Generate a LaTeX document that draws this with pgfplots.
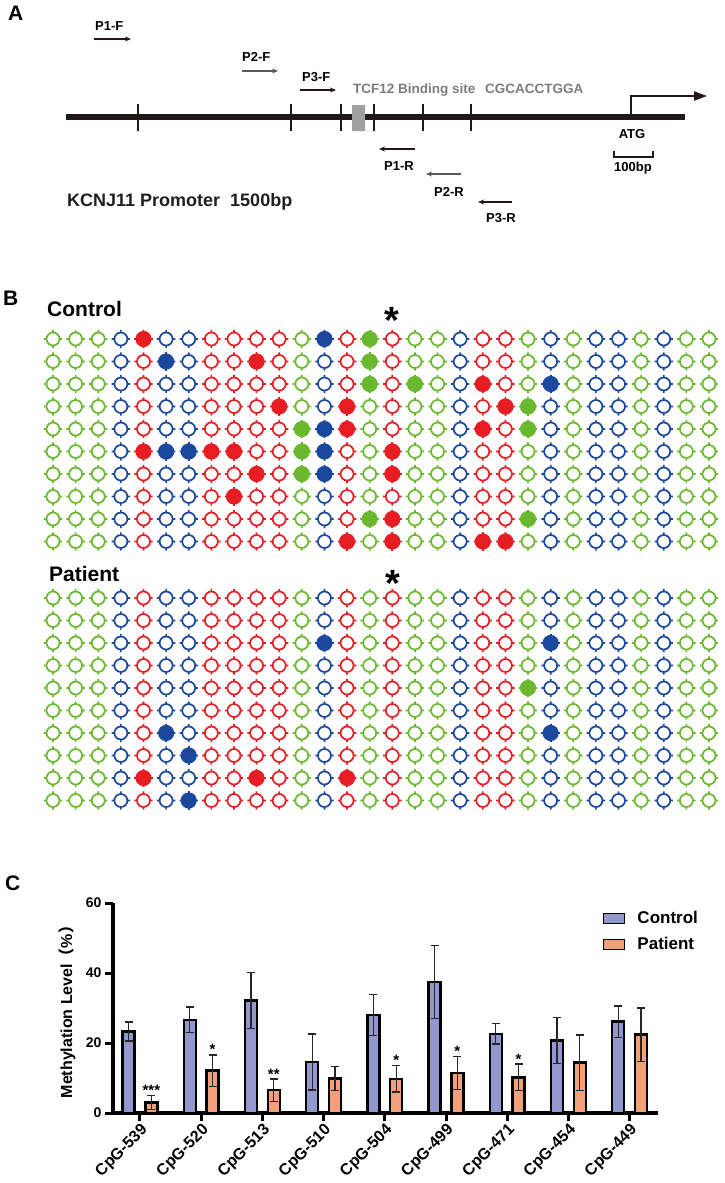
\documentclass[border=0pt]{standalone}
\usepackage{pgfplots}
\pgfplotsset{compat=1.18}
\usepackage{pgfplotstable}
\usepackage{fontspec}
\setmainfont{Liberation Sans}
\newfontfamily\cjk{Noto Sans CJK SC}
\usetikzlibrary{arrows.meta}
\newcommand{\fsz}[1]{\fontsize{#1}{#1}\selectfont}

\definecolor{cg}{RGB}{106,184,46}
\definecolor{cr}{RGB}{230,30,36}
\definecolor{cb}{RGB}{26,72,156}
\definecolor{barC}{RGB}{146,152,206}
\definecolor{barP}{RGB}{242,160,122}
\definecolor{lineblk}{RGB}{32,24,24}
\definecolor{boxgray}{RGB}{160,160,160}
\definecolor{txtgray}{RGB}{125,125,125}

\pgfdeclareplotmark{ring}{%
  \pgfpathcircle{\pgfpointorigin}{6.5pt}%
  \pgfpathmoveto{\pgfqpoint{0pt}{6pt}}\pgfpathlineto{\pgfqpoint{0pt}{9.2pt}}%
  \pgfpathmoveto{\pgfqpoint{0pt}{-6pt}}\pgfpathlineto{\pgfqpoint{0pt}{-9.2pt}}%
  \pgfpathmoveto{\pgfqpoint{6pt}{0pt}}\pgfpathlineto{\pgfqpoint{9.2pt}{0pt}}%
  \pgfpathmoveto{\pgfqpoint{-6pt}{0pt}}\pgfpathlineto{\pgfqpoint{-9.2pt}{0pt}}%
  \pgfusepathqstroke}
\pgfdeclareplotmark{dot}{%
  \pgfpathcircle{\pgfpointorigin}{8.1pt}\pgfusepathqfill
  \pgfpathmoveto{\pgfqpoint{0pt}{6pt}}\pgfpathlineto{\pgfqpoint{0pt}{9.2pt}}%
  \pgfpathmoveto{\pgfqpoint{0pt}{-6pt}}\pgfpathlineto{\pgfqpoint{0pt}{-9.2pt}}%
  \pgfpathmoveto{\pgfqpoint{6pt}{0pt}}\pgfpathlineto{\pgfqpoint{9.2pt}{0pt}}%
  \pgfpathmoveto{\pgfqpoint{-6pt}{0pt}}\pgfpathlineto{\pgfqpoint{-9.2pt}{0pt}}%
  \pgfusepathqstroke}

% CpG column colour classes (g = green, r = red, b = blue)
\pgfplotstableread{
col cls
0 g
1 g
2 g
3 b
4 r
5 b
6 b
7 r
8 r
9 r
10 r
11 g
12 b
13 r
14 g
15 r
16 g
17 g
18 b
19 r
20 r
21 g
22 b
23 g
24 b
25 b
26 g
27 b
28 g
29 g
}\colstab

% methylated (filled) sites, Control
\pgfplotstableread{
col row cls
4 1 r
12 1 b
14 1 g
5 2 b
9 2 r
14 2 g
14 3 g
16 3 g
19 3 r
22 3 b
10 4 r
13 4 r
20 4 r
21 4 g
11 5 g
12 5 b
13 5 r
19 5 r
21 5 g
4 6 r
5 6 b
6 6 b
7 6 r
8 6 r
11 6 g
12 6 b
15 6 r
9 7 r
11 7 g
12 7 b
15 7 r
8 8 r
14 9 g
15 9 r
21 9 g
13 10 r
15 10 r
19 10 r
20 10 r
}\ctrlfilled

% methylated (filled) sites, Patient
\pgfplotstableread{
col row cls
12 3 b
22 3 b
21 5 g
5 7 b
22 7 b
6 8 b
4 9 r
9 9 r
13 9 r
6 10 b
}\patfilled

% methylation level (%)
\pgfplotstableread{
cat ctrl cerr pat perr
0 23.3 2.7 3.0 2.0
1 26.6 3.7 12.1 4.5
2 32.2 8.0 6.5 3.2
3 14.6 8.0 9.9 3.5
4 28.0 5.9 9.8 3.8
5 37.5 10.4 11.4 4.7
6 22.6 2.9 10.2 3.8
7 20.7 6.5 14.4 7.9
8 26.1 4.5 22.4 7.6
}\levels

\pgfplotsset{
  ringrows/.style={scatter, only marks, scatter src=explicit symbolic,
    scatter/classes={g={mark=ring,cg}, r={mark=ring,cr}, b={mark=ring,cb}},
    mark options={line width=1.7pt}},
  dotcells/.style={scatter, only marks, scatter src=explicit symbolic,
    scatter/classes={g={mark=dot,cg}, r={mark=dot,cr}, b={mark=dot,cb}},
    mark options={line width=1.7pt}},
}

\begin{document}
\begin{tikzpicture}
% ---------------- background / panel A ----------------
\begin{axis}[name=bg, at={(0pt,0pt)}, anchor=north west,
  width=724pt, height=1183pt, scale only axis, hide axis,
  xmin=0, xmax=724, ymin=0, ymax=1183, y dir=reverse, clip=false]
  \addplot[line width=5.5pt, lineblk] coordinates {(66,117)(685,117)};
  \addplot[line width=2.2pt, lineblk] coordinates {(138,104)(138,131)};
  \addplot[line width=2.2pt, lineblk] coordinates {(291,104)(291,131)};
  \addplot[line width=2.2pt, lineblk] coordinates {(341,104)(341,131)};
  \addplot[line width=2.2pt, lineblk] coordinates {(374,104)(374,131)};
  \addplot[line width=2.2pt, lineblk] coordinates {(423,104)(423,131)};
  \addplot[line width=2.2pt, lineblk] coordinates {(471,104)(471,131)};
  \addplot[fill=boxgray, draw=none] coordinates {(352,105)(365,105)(365,131)(352,131)(352,105)};
  \addplot[line width=2pt, lineblk, -{Triangle[length=13pt,width=9pt]}] coordinates {(631,117)(631,96)(707,96)};
  % primers
  \addplot[line width=1.4pt, lineblk, -{Stealth[length=6pt,width=5pt]}] coordinates {(94,39)(131,39)};
  \addplot[line width=1.4pt, black!65, -{Stealth[length=6pt,width=5pt]}] coordinates {(242,71)(278,71)};
  \addplot[line width=1.4pt, lineblk, -{Stealth[length=6pt,width=5pt]}] coordinates {(300,90)(336,90)};
  \addplot[line width=1.4pt, lineblk, -{Stealth[length=6pt,width=5pt]}] coordinates {(415,149)(379,149)};
  \addplot[line width=1.4pt, black!65, -{Stealth[length=6pt,width=5pt]}] coordinates {(461,174)(426,174)};
  \addplot[line width=1.4pt, lineblk, -{Stealth[length=6pt,width=5pt]}] coordinates {(512,202)(478,202)};
  % scale bar
  \addplot[line width=1.3pt, lineblk] coordinates {(614,151)(614,157)(653,157)(653,151)};

  \node[anchor=base west, inner sep=0pt, font=\fsz{21}\bfseries] at (axis cs:8,20) {A};
  \node[anchor=base west, inner sep=0pt, font=\fsz{13}\bfseries] at (axis cs:95,30) {P1-F};
  \node[anchor=base west, inner sep=0pt, font=\fsz{13}\bfseries] at (axis cs:242,61.7) {P2-F};
  \node[anchor=base west, inner sep=0pt, font=\fsz{13}\bfseries] at (axis cs:302,81.7) {P3-F};
  \node[anchor=base west, inner sep=0pt, font=\fsz{13}\bfseries] at (axis cs:384,170) {P1-R};
  \node[anchor=base west, inner sep=0pt, font=\fsz{13}\bfseries] at (axis cs:434,196) {P2-R};
  \node[anchor=base west, inner sep=0pt, font=\fsz{13}\bfseries] at (axis cs:486,222.7) {P3-R};
  \node[anchor=base west, inner sep=0pt, font=\fsz{13.5}\bfseries, txtgray] at (axis cs:353,93.3) {TCF12 Binding site};
  \node[anchor=base west, inner sep=0pt, font=\fsz{13.5}\bfseries, txtgray] at (axis cs:485,93.3) {CGCACCTGGA};
  \node[anchor=base, inner sep=0pt, font=\fsz{13}\bfseries] at (axis cs:632,138.3) {ATG};
  \node[anchor=base, inner sep=0pt, font=\fsz{13}\bfseries] at (axis cs:633,171.7) {100bp};
  \node[anchor=base west, inner sep=0pt, font=\fsz{18}\bfseries, black!88] at (axis cs:67,206.7) {KCNJ11 Promoter\ \ 1500bp};
  % panel B labels
  \node[anchor=base west, inner sep=0pt, font=\fsz{21}\bfseries] at (axis cs:3,305) {B};
  \node[anchor=base west, inner sep=0pt, font=\fsz{21}\bfseries] at (axis cs:47,316) {Control};
  \node[anchor=base west, inner sep=0pt, font=\fsz{21}\bfseries] at (axis cs:49,581.7) {Patient};
  \node[anchor=north, inner sep=0pt, font=\fsz{38}\bfseries] at (axis cs:392,307) {*};
  \node[anchor=north, inner sep=0pt, font=\fsz{38}\bfseries] at (axis cs:393,570) {*};
  % panel C label
  \node[anchor=base west, inner sep=0pt, font=\fsz{21}\bfseries] at (axis cs:5,890) {C};
\end{axis}

% ---------------- panel B: Control ----------------
\begin{axis}[at={(41.7pt,-327.75pt)}, anchor=north west,
  width=678.6pt, height=225pt, scale only axis, hide axis,
  xmin=-0.5, xmax=29.5, ymin=0.5, ymax=10.5, y dir=reverse, clip=false]
  \pgfplotsinvokeforeach{1,...,10}{
    \addplot[ringrows] table[x=col, y expr=#1, meta=cls]{\colstab};
  }
  \addplot[dotcells] table[x=col, y=row, meta=cls]{\ctrlfilled};
\end{axis}

% ---------------- panel B: Patient ----------------
\begin{axis}[at={(41.7pt,-586.75pt)}, anchor=north west,
  width=678.6pt, height=225pt, scale only axis, hide axis,
  xmin=-0.5, xmax=29.5, ymin=0.5, ymax=10.5, y dir=reverse, clip=false]
  \pgfplotsinvokeforeach{1,...,10}{
    \addplot[ringrows] table[x=col, y expr=#1, meta=cls]{\colstab};
  }
  \addplot[dotcells] table[x=col, y=row, meta=cls]{\patfilled};
\end{axis}

% ---------------- panel C ----------------
\begin{axis}[at={(113pt,-1113pt)}, anchor=south west,
  width=545pt, height=210pt, scale only axis,
  xmin=-0.441, xmax=8.464, ymin=0, ymax=60,
  axis x line=bottom, axis y line=left,
  axis line style={line width=3.5pt, -},
  ytick={0,20,40,60}, xtick={0,...,8},
  xticklabels={CpG-539,CpG-520,CpG-513,CpG-510,CpG-504,CpG-499,CpG-471,CpG-454,CpG-449},
  tick align=outside, major tick length=8pt,
  tick style={line width=3pt, black},
  xticklabel style={rotate=45, anchor=north east, font=\fsz{16}\bfseries, inner sep=1pt},
  yticklabel style={font=\fsz{14}\bfseries},
  /pgf/number format/assume math mode=true,
  ylabel={Methylation Level{\cjk （}\%{\cjk ）}},
  ylabel style={font=\fsz{16}\bfseries, at={(axis description cs:-0.0844,0.5)}, anchor=center},
  ybar, bar width=12pt, clip=false,
  legend style={at={(axis cs:7.56,57.6)}, anchor=north west, draw=none, fill=none,
    font=\fsz{17}\bfseries, row sep=12pt, inner sep=0pt, nodes={inner sep=0pt},
    /tikz/every odd column/.append style={column sep=12pt}},
  legend cell align=left,
  error bars/error bar style={line width=1.2pt, black!85},
  error bars/error mark options={rotate=90, mark size=4pt, line width=1.2pt, black!85},
]
  \addplot[ybar, bar shift=-11.4pt, fill=barC, draw=black, line width=2.4pt, forget plot,
    error bars/.cd, y dir=both, y explicit]
    table[x=cat, y=ctrl, y error=cerr]{\levels};
  \addplot[ybar, bar shift=11.4pt, fill=barP, draw=black, line width=2.4pt, forget plot,
    error bars/.cd, y dir=both, y explicit]
    table[x=cat, y=pat, y error=perr]{\levels};
  \addlegendimage{legend image code/.code={\draw[fill=barC, draw=black, line width=1.6pt] (0pt,-5pt) rectangle (21pt,5pt);}}
  \addlegendentry{Control}
  \addlegendimage{legend image code/.code={\draw[fill=barP, draw=black, line width=1.6pt] (0pt,-5pt) rectangle (21pt,5pt);}}
  \addlegendentry{Patient}
  % significance marks
  \node[anchor=north, inner sep=0pt, xshift=11.4pt, yshift=10.5pt, font=\fsz{15}\bfseries] at (axis cs:0,5.0) {***};
  \node[anchor=north, inner sep=0pt, xshift=11.4pt, yshift=10.5pt, font=\fsz{15}\bfseries] at (axis cs:1,16.6) {*};
  \node[anchor=north, inner sep=0pt, xshift=11.4pt, yshift=10.5pt, font=\fsz{15}\bfseries] at (axis cs:2,9.7) {**};
  \node[anchor=north, inner sep=0pt, xshift=11.4pt, yshift=10.5pt, font=\fsz{15}\bfseries] at (axis cs:4,13.6) {*};
  \node[anchor=north, inner sep=0pt, xshift=11.4pt, yshift=10.5pt, font=\fsz{15}\bfseries] at (axis cs:5,16.1) {*};
  \node[anchor=north, inner sep=0pt, xshift=11.4pt, yshift=10.5pt, font=\fsz{15}\bfseries] at (axis cs:6,14.0) {*};
\end{axis}
\pgfresetboundingbox
\path[use as bounding box] (0pt,0pt) rectangle (724pt,-1183pt);
\end{tikzpicture}
\end{document}
